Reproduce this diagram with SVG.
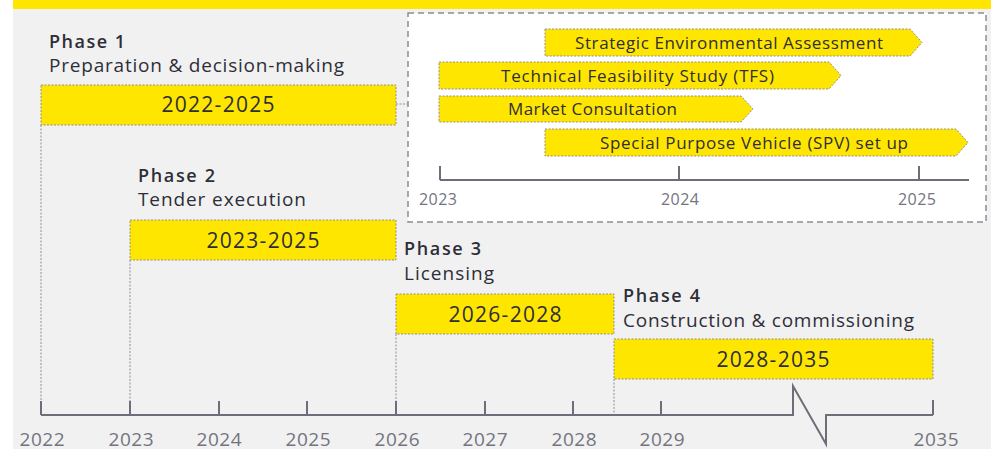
<svg xmlns="http://www.w3.org/2000/svg" width="991" height="449" viewBox="0 0 991 449">
<style>
.bar{fill:#ffe600;stroke:#8f8f99;stroke-width:1;stroke-dasharray:2 1.5}
.ph{font-family:"Open Sans","Liberation Sans",sans-serif;font-size:18px;font-weight:600;fill:#2e2e38}
.sub{font-family:"Open Sans","Liberation Sans",sans-serif;font-size:19px;fill:#2e2e38}
.bt{font-family:"Open Sans","Liberation Sans",sans-serif;font-size:21px;fill:#2e2e38;text-anchor:middle}
.at{font-family:"Open Sans","Liberation Sans",sans-serif;font-size:17px;fill:#2e2e38}
.yr{font-family:"Open Sans","Liberation Sans",sans-serif;font-size:19px;fill:#747480;text-anchor:middle}
.iyr{font-family:"Open Sans","Liberation Sans",sans-serif;font-size:16px;fill:#747480;text-anchor:middle}
.ax{fill:none;stroke:#6e6e7a;stroke-width:2}
.dot{fill:none;stroke:#8f8f99;stroke-width:1;stroke-dasharray:2 1.5}
</style>
<rect x="0" y="0" width="991" height="449" fill="#ffffff"/>
<rect x="13" y="0" width="978" height="449" fill="#f1f1f1"/>
<rect x="13" y="0" width="978" height="9" fill="#ffe600"/>

<g id="connectors">
<line class="dot" x1="41" y1="125" x2="41" y2="401"/>
<line class="dot" x1="130" y1="260" x2="130" y2="401"/>
<line class="dot" x1="396" y1="334" x2="396" y2="401"/>
<line class="dot" x1="614" y1="379" x2="614" y2="415"/>
<line class="dot" x1="396" y1="104" x2="408" y2="104"/>
</g>

<g id="timeline-axis">
<path class="ax" d="M41 415 H793 V386 L826 444 V415 H933"/>
<path class="ax" d="M41 401 V415 M130 401 V415 M219 401 V415 M307 401 V415 M396 401 V415 M485 401 V415 M573 401 V415 M661 401 V415 M933 400 V415"/>
<text class="yr" x="42" y="446" textLength="45">2022</text>
<text class="yr" x="131" y="446" textLength="45">2023</text>
<text class="yr" x="219" y="446" textLength="45">2024</text>
<text class="yr" x="308" y="446" textLength="45">2025</text>
<text class="yr" x="397" y="446" textLength="45">2026</text>
<text class="yr" x="485" y="446" textLength="45">2027</text>
<text class="yr" x="574" y="446" textLength="45">2028</text>
<text class="yr" x="662" y="446" textLength="45">2029</text>
<text class="yr" x="936" y="446" textLength="45">2035</text>
</g>

<g id="phase1">
<text class="ph" x="49" y="48" textLength="76">Phase 1</text>
<text class="sub" x="49" y="72" textLength="295">Preparation &amp; decision-making</text>
<rect class="bar" x="41" y="85" width="355" height="40"/>
<text class="bt" x="218" y="112" textLength="113">2022-2025</text>
</g>

<g id="phase2">
<text class="ph" x="138" y="182" textLength="77">Phase 2</text>
<text class="sub" x="138" y="206" textLength="168">Tender execution</text>
<rect class="bar" x="130" y="220" width="266" height="40"/>
<text class="bt" x="263" y="248" textLength="113">2023-2025</text>
</g>

<g id="phase3">
<text class="ph" x="404" y="255" textLength="77">Phase 3</text>
<text class="sub" x="404" y="280" textLength="90">Licensing</text>
<rect class="bar" x="396" y="294" width="218" height="40"/>
<text class="bt" x="505" y="322" textLength="113">2026-2028</text>
</g>

<g id="phase4">
<text class="ph" x="623" y="302" textLength="77">Phase 4</text>
<text class="sub" x="623" y="327" textLength="291">Construction &amp; commissioning</text>
<rect class="bar" x="614" y="339" width="319" height="40"/>
<text class="bt" x="773" y="367" textLength="113">2028-2035</text>
</g>

<g id="phase1-detail">
<rect x="408" y="13" width="578" height="209" fill="#ffffff" stroke="#8c8c98" stroke-width="1.5" stroke-dasharray="6 4"/>
<g id="sea">
<path class="bar" d="M545 29 H910 L922 42.5 L910 56 H545 Z"/>
<text class="at" x="575" y="49" textLength="308">Strategic Environmental Assessment</text>
</g>
<g id="tfs">
<path class="bar" d="M439 62 H829 L841 75.5 L829 89 H439 Z"/>
<text class="at" x="501" y="82" textLength="273">Technical Feasibility Study (TFS)</text>
</g>
<g id="mc">
<path class="bar" d="M439 96 H741 L753 109 L741 122 H439 Z"/>
<text class="at" x="508" y="115" textLength="169">Market Consultation</text>
</g>
<g id="spv">
<path class="bar" d="M545 129 H956 L968 142.5 L956 156 H545 Z"/>
<text class="at" x="600" y="149" textLength="308">Special Purpose Vehicle (SPV) set up</text>
</g>
<path class="ax" d="M440 180 H969 M440 166 V180 M679 166 V180 M919 166 V180"/>
<text class="iyr" x="438" y="205" textLength="38">2023</text>
<text class="iyr" x="680" y="205" textLength="38">2024</text>
<text class="iyr" x="917" y="205" textLength="38">2025</text>
</g>
</svg>
